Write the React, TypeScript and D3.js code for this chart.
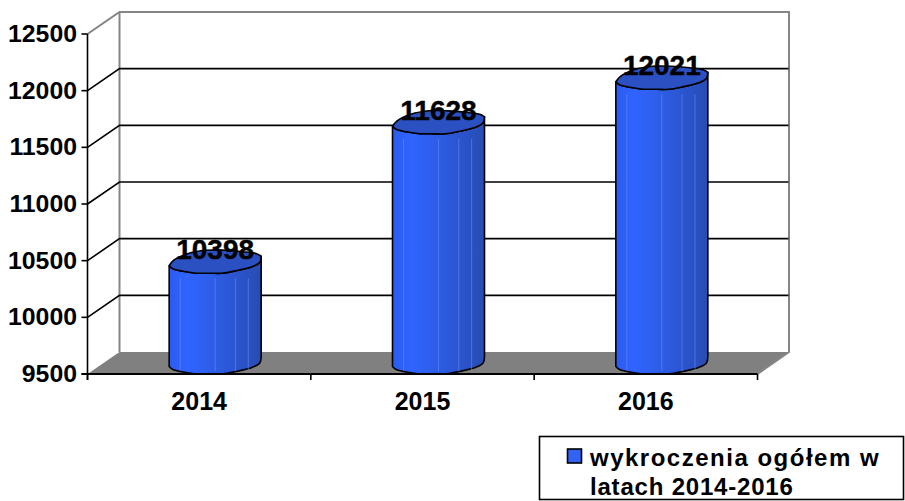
import React from "react";
import * as d3 from "d3";

const categories = ["2014", "2015", "2016"];
const values = [10398, 11628, 12021];
const yTicks = [9500, 10000, 10500, 11000, 11500, 12000, 12500];
const seriesName = ["wykroczenia ogółem w", "latach 2014-2016"];

const W = 905, H = 501;
const x0 = 87.5, x1 = 757.5, yBottom = 374, yTop = 34;
const depthX = 32, depthY = -22;

const x = d3.scaleBand<string>().domain(categories).range([x0, x1]);
const y = d3.scaleLinear().domain([9500, 12500]).range([yBottom, yTop]);
const barW = 92;
const font = "'Liberation Sans', Arial, sans-serif";

// cap outline, fractions of half width / px offset from front-lowest point
const capFront: [number, number][] = [[-1, -7.5], [-0.92, -4.5], [-0.7, -2], [-0.45, -0.3], [-0.1, 0], [0.15, 0], [0.45, -2.5], [0.8, -6.5], [0.97, -11], [1, -17]];
const capBack: [number, number][] = [[1, -17], [0.9, -19.5], [0.6, -21.5], [0.2, -23], [-0.2, -23], [-0.6, -19.5], [-0.9, -13], [-1, -7.5]];

const line = d3.line<[number, number]>().x(d => d[0]).y(d => d[1]).curve(d3.curveCatmullRom.alpha(0.5));

function barPaths(cx: number, top: number, bottom: number) {
  const h = barW / 2;
  const abs = (pts: [number, number][], base: number) => pts.map(([a, b]) => [cx + a * h, base + b] as [number, number]);
  const front = line(abs(capFront, top))!;
  const back = line(abs(capBack, top))!;
  const bottomEdge = line(abs(capFront, bottom).reverse())!.replace(/^M/, "L");
  const body = front + ` ${bottomEdge} Z`;
  const cap = front + " " + back.replace(/^M/, "L") + " Z";
  return { body, cap, front };
}

const stripes = [0.12, 0.5, 0.72, 0.86];

export default function App() {
  return (
    <svg width={W} height={H} viewBox={`0 0 ${W} ${H}`} style={{ position: "fixed", left: 0, top: 0, background: "#fff", fontFamily: font }}>
      <defs>
        <linearGradient id="bar" x1="0" x2="1" y1="0" y2="0">
          <stop offset="0" stopColor="#2b5cf0" />
          <stop offset="0.2" stopColor="#3064ff" />
          <stop offset="0.55" stopColor="#2d5be0" />
          <stop offset="1" stopColor="#284cb4" />
        </linearGradient>
      </defs>
      {/* floor */}
      <polygon points={[[x0, yBottom], [x0 + depthX, yBottom + depthY], [x1 + depthX, yBottom + depthY], [x1, yBottom]].join(" ")} fill="#808080" />
      {/* walls */}
      <path d={`M${x0},${y(12500)} L${x0 + depthX},${y(12500) + depthY} H${x1 + depthX - 0.5} V${yBottom + depthY} L${x1},${yBottom}`} fill="none" stroke="#858585" strokeWidth={2} />
      <line x1={x0 + depthX} x2={x0 + depthX} y1={y(12500) + depthY} y2={yBottom + depthY} stroke="#858585" strokeWidth={2} />
      {/* gridlines */}
      {yTicks.slice(1, -1).map(t => (
        <path key={t} d={`M${x0},${y(t)} L${x0 + depthX},${y(t) + depthY} H${x1 + depthX - 1}`} fill="none" stroke="#000" strokeWidth={1.6} />
      ))}
      {/* bars */}
      {categories.map((c, i) => {
        const cx = x(c)! + x.bandwidth() / 2 + depthX / 2;
        const { body, cap } = barPaths(cx, y(values[i]) + 1, yBottom);
        const l = cx - barW / 2;
        return (
          <g key={c}>
            <path d={body} fill="url(#bar)" stroke="#000" strokeWidth={1.6} strokeLinejoin="round" />
            {stripes.map(s => (
              <line key={s} x1={l + s * barW} x2={l + s * barW} y1={y(values[i]) + 6} y2={yBottom - 3} stroke="#6d8ff5" strokeOpacity={0.55} strokeWidth={1} />
            ))}
            <path d={cap} fill="#2a50c2" stroke="#000" strokeWidth={1.6} strokeLinejoin="round" />
          </g>
        );
      })}
      {/* axes */}
      <line x1={x0} x2={x0} y1={y(12500)} y2={yBottom + 6} stroke="#000" strokeWidth={1.6} />
      <line x1={x0 - 6} x2={x1} y1={yBottom} y2={yBottom} stroke="#000" strokeWidth={2} />
      {yTicks.map(t => (
        <g key={t}>
          <line x1={x0 - 6} x2={x0} y1={y(t)} y2={y(t)} stroke="#000" strokeWidth={1.6} />
          <text x={77} y={y(t) + 8} textAnchor="end" fontSize={24.8} fontWeight={700} fill="#000">{t}</text>
        </g>
      ))}
      {x.domain().concat("end").map((c, i) => {
        const tx = x0 + i * x.step();
        return <line key={c} x1={tx} x2={tx} y1={yBottom} y2={yBottom + 6} stroke="#000" strokeWidth={1.6} />;
      })}
      {categories.map(c => (
        <text key={c} x={x(c)! + x.bandwidth() / 2} y={410} textAnchor="middle" fontSize={25} fontWeight={700} fill="#000">{c}</text>
      ))}
      {/* data labels */}
      {categories.map((c, i) => (
        <text key={c} x={x(c)! + x.bandwidth() / 2 + depthX / 2} y={y(values[i]) - 13} textAnchor="middle" fontSize={28} fontWeight={700} fill="#000" stroke="#000" strokeWidth={0.4}>{values[i]}</text>
      ))}
      {/* legend */}
      <rect x={539.5} y={436.5} width={364} height={63} fill="#fff" stroke="#000" strokeWidth={1.6} />
      <rect x={567.5} y={449} width={14} height={14} fill="#2f62f5" stroke="#000" strokeWidth={1.6} />
      <text x={590} y={466} fontSize={24} fontWeight={700} letterSpacing={1.5} fill="#000">{seriesName[0]}</text>
      <text x={590} y={495} fontSize={24} fontWeight={700} letterSpacing={0.8} fill="#000">{seriesName[1]}</text>
    </svg>
  );
}
